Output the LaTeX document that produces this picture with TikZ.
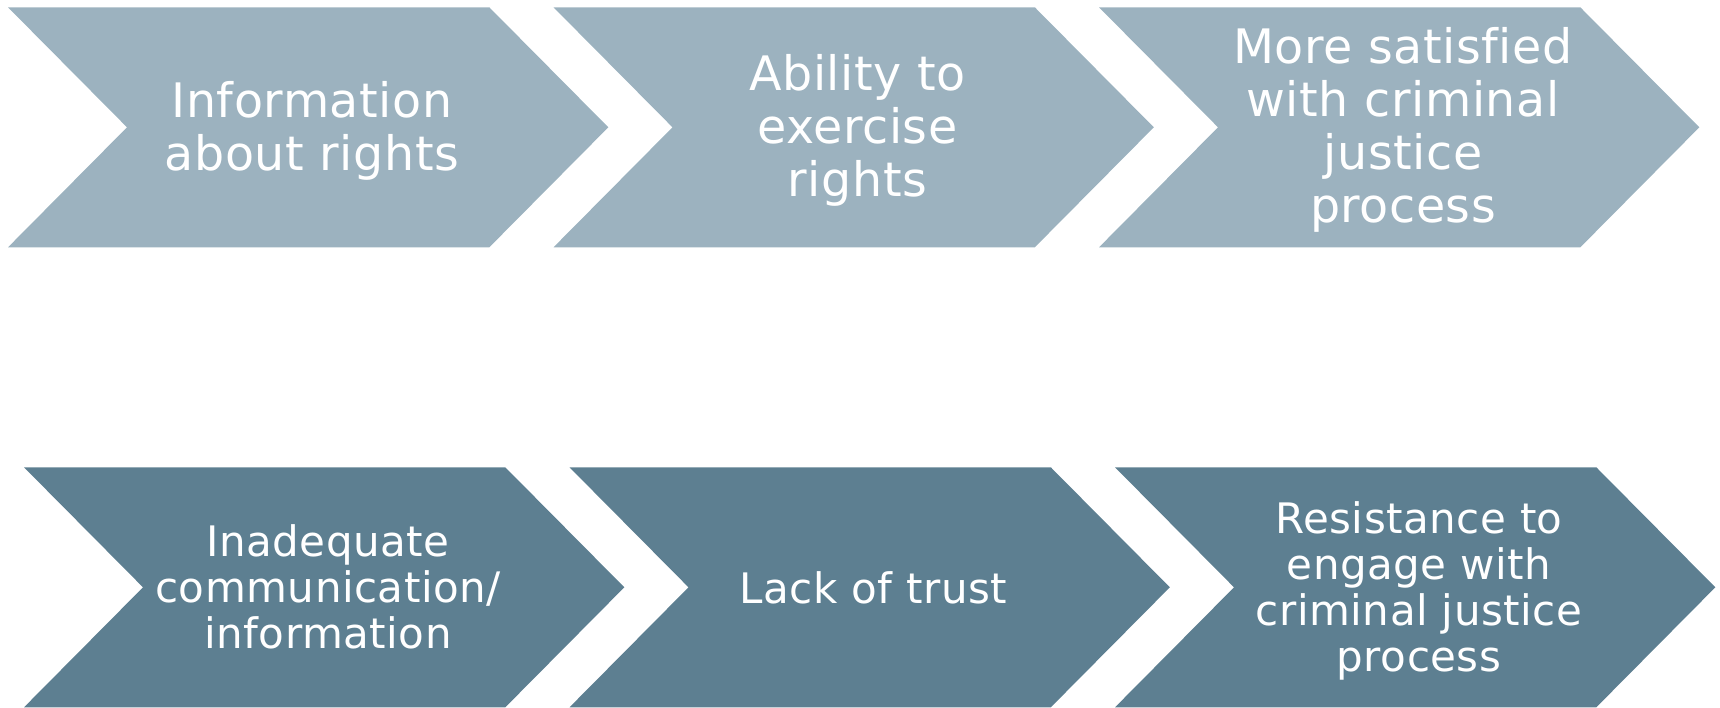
\documentclass[tikz,border=0pt]{standalone}
\usepackage{fontspec}
\setmainfont[Ligatures={NoCommon},LetterSpace=1.2]{DejaVu Sans}
\definecolor{topfill}{RGB}{156,178,191}
\definecolor{botfill}{RGB}{93,127,145}
\begin{document}
\begin{tikzpicture}[x=1pt,y=-1pt,
  label/.style={text=white, align=center, inner sep=0pt},
  toplabel/.style={label, font=\fontsize{47.5}{53}\selectfont},
  botlabel/.style={label, font=\fontsize{42}{46}\selectfont}]
\useasboundingbox (0,0) rectangle (1720,707);
% chevron: #1 = left x, #2 = centre y, #3 = fill colour
\newcommand\chevron[3]{%
  \fill[#3] (#1,#2-120) -- ++(481.3,0) -- ++(119,120) -- ++(-119,120)
    -- ++(-481.3,0) -- ++(119,-120) -- cycle;}
% upper row
\chevron{8}{127.3}{topfill}
\chevron{553.5}{127.3}{topfill}
\chevron{1099}{127.3}{topfill}
% lower row
\chevron{24}{587.3}{botfill}
\chevron{569.5}{587.3}{botfill}
\chevron{1115}{587.3}{botfill}
% labels
\node[toplabel] (t1) at (312,130.5) {Information\\about rights};
\node[toplabel] (t2) at (857.5,130.5) {Ability to\\exercise\\rights};
\node[toplabel] (t3) at (1403,129.5) {More satisfied\\with criminal\\justice\\process};
\node[botlabel] (b1) at (328,586.5) {Inadequate\\communication/\\information};
\node[botlabel] (b2) at (873.5,588) {Lack of trust};
\node[botlabel] (b3) at (1419,590.5) {Resistance to\\engage with\\criminal justice\\process};
\end{tikzpicture}
\end{document}
